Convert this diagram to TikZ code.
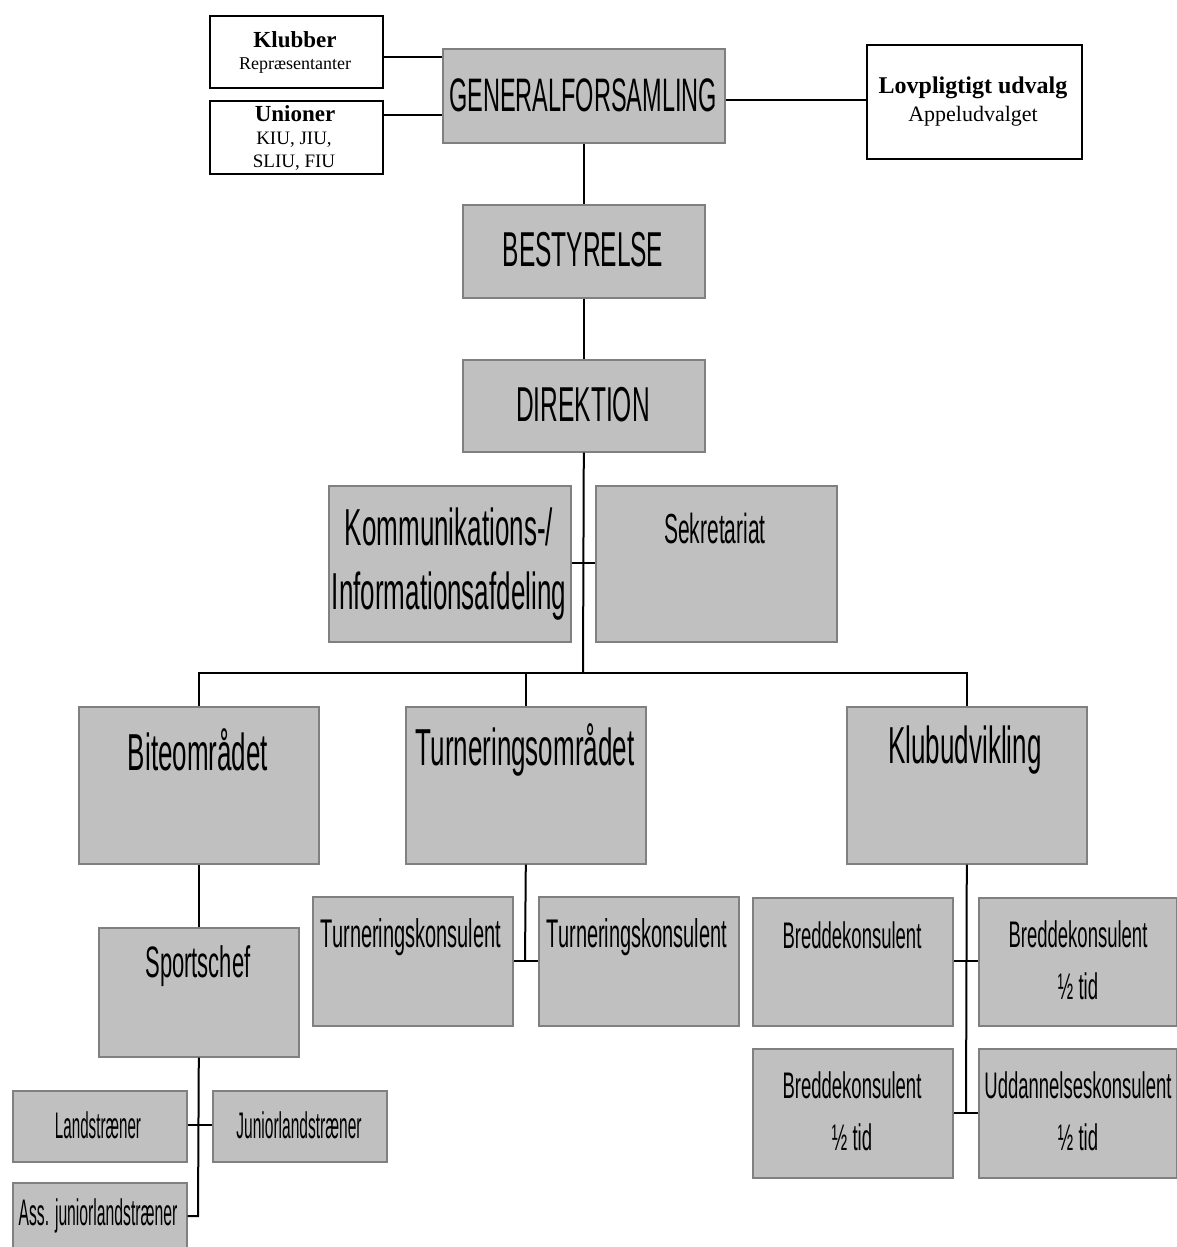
\documentclass[tikz,border=0pt]{standalone}
\usepackage{fontspec}
\setmainfont{Liberation Serif}
\newfontfamily\nar[FakeStretch=0.5]{Liberation Sans}
\newcommand{\fsz}[2]{\fontsize{#1}{#2}\selectfont}
\definecolor{boxgray}{HTML}{C0C0C0}
\definecolor{edgegray}{HTML}{808080}
\tikzset{
  gbox/.style={draw=edgegray, fill=boxgray, line width=1.6pt, anchor=north west, inner sep=0pt},
  wbox/.style={draw=black, fill=white, line width=1.8pt, anchor=north west, inner sep=0pt},
  txt/.style={inner sep=0pt, align=center, text=black},
  conn/.style={draw=black, line width=2pt},
}
\begin{document}
\begin{tikzpicture}[x=1pt, y=-1pt]
\useasboundingbox (0,0) rectangle (1177,1247);
% ---- boxes ----
\node[wbox, minimum width=173pt, minimum height=72pt] (klub) at (209,15) {};
\node[wbox, minimum width=173pt, minimum height=73pt] (union) at (209,100) {};
\node[gbox, minimum width=282pt, minimum height=94pt] (gf) at (442,48) {};
\node[wbox, minimum width=215pt, minimum height=114pt] (lov) at (866,44) {};
\node[gbox, minimum width=242pt, minimum height=93pt] (best) at (462,204) {};
\node[gbox, minimum width=242pt, minimum height=92pt] (dir) at (462,359) {};
\node[gbox, minimum width=242pt, minimum height=156pt] (komm) at (328,485) {};
\node[gbox, minimum width=241pt, minimum height=156pt] (sekr) at (595,485) {};
\node[gbox, minimum width=240pt, minimum height=157pt] (bite) at (78,706) {};
\node[gbox, minimum width=240pt, minimum height=157pt] (turn) at (405,706) {};
\node[gbox, minimum width=240pt, minimum height=157pt] (kud) at (846,706) {};
\node[gbox, minimum width=200pt, minimum height=129pt] (sport) at (98,927) {};
\node[gbox, minimum width=200pt, minimum height=129pt] (tk1) at (312,896) {};
\node[gbox, minimum width=200pt, minimum height=129pt] (tk2) at (538,896) {};
\node[gbox, minimum width=200pt, minimum height=128pt] (bk1) at (752,897) {};
\node[gbox, minimum width=198pt, minimum height=128pt] (bk2) at (978,897) {};
\node[gbox, minimum width=200pt, minimum height=129pt] (bk3) at (752,1048) {};
\node[gbox, minimum width=198pt, minimum height=129pt] (udd) at (978,1048) {};
\node[gbox, minimum width=174pt, minimum height=71pt] (land) at (12,1090) {};
\node[gbox, minimum width=174pt, minimum height=71pt] (jun) at (212,1090) {};
\node[gbox, minimum width=174pt, minimum height=66pt] (ass) at (12,1182) {};
% ---- texts ----
\node[txt, font=\bfseries\fsz{23}{26}] (klub-t) at (295,40) {Klubber};
\node[txt, font=\fsz{18}{20}] (klub-s) at (295,66) {Repræsentanter};
\node[txt, font=\bfseries\fsz{23}{26}] (union-t) at (295,114) {Unioner};
\node[txt, font=\fsz{19}{23}] (union-s) at (294,151) {KIU, JIU,\\SLIU, FIU};
\node[txt, font=\bfseries\fsz{24}{26}] (lov-t) at (973,88) {Lovpligtigt udvalg};
\node[txt, font=\fsz{22}{24}] (lov-s) at (973,116) {Appeludvalget};
\node[txt, font=\nar\fsz{47}{52}] (gf-t) at (583,95) {GENERALFORSAMLING};
\node[txt, font=\nar\fsz{49}{52}] (best-t) at (583,250) {BESTYRELSE};
\node[txt, font=\nar\fsz{49}{52}] (dir-t) at (583,405) {DIREKTION};
\node[txt, font=\nar\fsz{52}{64}] (komm-t) at (449,564) {Kommunikations-/\\Informationsafdeling};
\node[txt, font=\nar\fsz{42}{48}] (sekr-t) at (715,528) {Sekretariat};
\node[txt, font=\nar\fsz{52}{56}] (bite-t) at (198,750) {Biteområdet};
\node[txt, font=\nar\fsz{52}{56}] (turn-t) at (525,750) {Turneringsområdet};
\node[txt, font=\nar\fsz{52}{56}] (kud-t) at (965,750) {Klubudvikling};
\node[txt, font=\nar\fsz{44}{48}] (sport-t) at (198,966) {Sportschef};
\node[txt, font=\nar\fsz{40}{44}] (tk1-t) at (411,937) {Turneringskonsulent};
\node[txt, font=\nar\fsz{40}{44}] (tk2-t) at (637,937) {Turneringskonsulent};
\node[txt, font=\nar\fsz{37}{52}] (bk1-t) at (852,935) {Breddekonsulent};
\node[txt, font=\nar\fsz{37}{52}] (bk2-t) at (1078,960) {Breddekonsulent\\½ tid};
\node[txt, font=\nar\fsz{37}{52}] (bk3-t) at (852,1111) {Breddekonsulent\\½ tid};
\node[txt, font=\nar\fsz{37}{52}] (udd-t) at (1078,1111) {Uddannelseskonsulent\\½ tid};
\node[txt, font=\nar\fsz{37}{40}] (land-t) at (98,1125) {\scalebox{0.82}[1]{Landstræner}};
\node[txt, font=\nar\fsz{37}{40}] (jun-t) at (299,1125) {\scalebox{0.84}[1]{Juniorlandstræner}};
\node[txt, font=\nar\fsz{37}{40}] (ass-t) at (98,1216) {\scalebox{0.85}[1]{Ass. juniorlandstræner}};
% ---- junction coordinates ----
\coordinate (barmid) at (583,673);
\coordinate (kommj) at (583,563);
\coordinate (tkj) at (525,961);
\coordinate (kj1) at (966,961);
\coordinate (kj2) at (966,1113);
\coordinate (sj1) at (198,1125);
\coordinate (sj2) at (198,1216);
% ---- connectors ----
\draw[conn] (klub.east |- 0,57) -- (gf.west |- 0,57);
\draw[conn] (union.east |- 0,115) -- (gf.west |- 0,115);
\draw[conn] (gf.east |- 0,100) -- (lov.west |- 0,100);
\draw[conn] (gf.south) -- (best.north);
\draw[conn] (best.south) -- (dir.north);
\draw[conn] (dir.south) -- (barmid);
\draw[conn] (komm.east |- kommj) -- (sekr.west |- kommj);
\draw[conn] (bite.north) -- (bite.north |- barmid) -- (kud.north |- barmid) -- (kud.north);
\draw[conn] (turn.north |- barmid) -- (turn.north);
\draw[conn] (bite.south) -- (sport.north);
\draw[conn] (sport.south) -- (sj2) -- (ass.east |- sj2);
\draw[conn] (land.east |- sj1) -- (jun.west |- sj1);
\draw[conn] (turn.south) -- (tkj);
\draw[conn] (tk1.east |- tkj) -- (tk2.west |- tkj);
\draw[conn] (kud.south) -- (kj2);
\draw[conn] (bk1.east |- kj1) -- (bk2.west |- kj1);
\draw[conn] (bk3.east |- kj2) -- (udd.west |- kj2);
\end{tikzpicture}
\end{document}
